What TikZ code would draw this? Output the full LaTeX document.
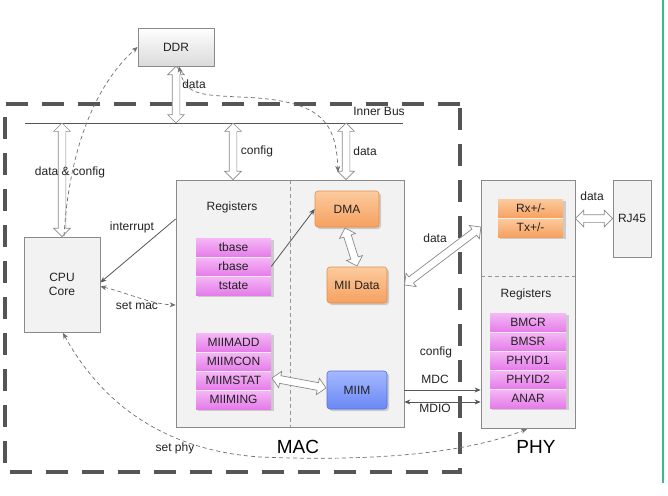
\documentclass[tikz,border=0pt]{standalone}
\usepackage{fontspec}
\setmainfont{Liberation Sans}
\usetikzlibrary{arrows.meta,shapes.arrows,calc}

\definecolor{boxborder}{HTML}{8A8A8A}
\definecolor{boxfill}{HTML}{F2F2F2}
\definecolor{linecol}{HTML}{555555}
\definecolor{pinktop}{HTML}{F5B8F5}
\definecolor{pinkbot}{HTML}{E57CEA}
\definecolor{orgtop}{HTML}{FCCB9E}
\definecolor{orgbot}{HTML}{F6A160}
\definecolor{orgborder}{HTML}{E58D4A}
\definecolor{bluetop}{HTML}{A5B8FF}
\definecolor{bluebot}{HTML}{6A88F5}
\definecolor{blueborder}{HTML}{5672DD}
\definecolor{bigdash}{HTML}{555555}
\definecolor{edgegreen}{HTML}{3DBB85}
\definecolor{txt}{HTML}{222222}

\tikzset{
  every node/.style={font=\fontsize{12}{14}\selectfont, text=txt},
  graybox/.style={draw=boxborder, fill=boxfill, line width=0.8pt, inner sep=0pt},
  ddrbox/.style={draw=boxborder, top color=white, bottom color=boxfill!90!black, line width=0.8pt, inner sep=0pt},
  regrow/.style={top color=pinktop, bottom color=pinkbot, draw=none, minimum width=75pt, minimum height=19pt, inner sep=0pt},
  orgrow/.style={top color=orgtop, bottom color=orgbot, draw=none, minimum width=65pt, minimum height=19pt, inner sep=0pt},
  orangebox/.style={rounded corners=3pt, top color=orgtop, bottom color=orgbot, draw=orgborder, line width=0.6pt, inner sep=0pt},
  bluebox/.style={rounded corners=3pt, top color=bluetop, bottom color=bluebot, draw=blueborder, line width=0.6pt, inner sep=0pt},
  fatarrow/.style={double arrow, draw=boxborder, fill=white, line width=0.7pt, inner sep=0pt, inner ysep=3.5pt, double arrow head extend=4.5pt, double arrow tip angle=90},
  thinarrow/.style={draw=linecol, line width=0.8pt},
  dashconn/.style={draw=linecol!85, line width=0.7pt, dash pattern=on 4pt off 3pt},
  tip/.style={-{Stealth[length=6pt,width=5pt]}},
  tips/.style={{Stealth[length=6pt,width=5pt]}-{Stealth[length=6pt,width=5pt]}},
  lbl/.style={inner sep=0pt},
  biglbl/.style={inner sep=0pt, font=\fontsize{19}{22}\selectfont, text=black},
  shade/.style={fill=black, opacity=0.16},
  rowsep/.style={draw=white, opacity=0.7, line width=1.2pt},
}

\newcommand{\hollowarrow}[2]{%
  \path let \p1=(#1), \p2=(#2), \n1={atan2(\y2-\y1,\x2-\x1)}, \n2={veclen(\x2-\x1,\y2-\y1)} in
    node[fatarrow, rotate=\n1, minimum height=\n2] at ($(\p1)!0.5!(\p2)$) {};}

\begin{document}
\begin{tikzpicture}[x=1pt, y=-1pt]
\useasboundingbox (0,0) rectangle (668,495);

% right edge line
\draw[edgegreen, line width=1.2pt] (663,0) -- (663,483);

% big dashed MAC boundary
\draw[bigdash, line width=4pt, dash pattern=on 22pt off 14pt, dash phase=0pt] (460,104) -- (5,104) -- (5,472) -- (460,472) -- cycle;

% main boxes
\node[ddrbox, minimum width=76pt, minimum height=38pt] (ddr) at (176,47) {DDR};
\node[graybox, minimum width=76pt, minimum height=95pt, align=center] (cpu) at (62,284.5) {CPU\\Core};
\node[graybox, minimum width=228pt, minimum height=247pt] (mac) at (290,303.5) {};
\node[graybox, minimum width=94pt, minimum height=248pt] (phy) at (528,304) {};
\node[graybox, minimum width=38pt, minimum height=77pt] (rj45) at (632,218.5) {RJ45};

% dividers
\draw[boxborder!90, line width=0.7pt, dash pattern=on 4pt off 3pt] (mac.north) -- (mac.south);
\coordinate (phyDivL) at (481,276);
\coordinate (phyDivR) at (575,276);
\draw[boxborder!90, line width=0.7pt, dash pattern=on 4pt off 3pt] (phyDivL) -- (phyDivR);

% inner bus
\coordinate (busL) at (25,123);
\coordinate (busR) at (403,123);
\draw[linecol, line width=0.9pt] (busL) -- (busR);
\node[lbl] (busLbl) at (379,111) {Inner Bus};

% MAC internal blocks
\node[lbl] (macRegLbl) at (232,207) {Registers};
\fill[shade, rounded corners=3pt] (317,193) rectangle (381,229);
\node[orangebox, minimum width=64pt, minimum height=36pt] (dma) at (347,209) {DMA};
\fill[shade, rounded corners=3pt] (329,269) rectangle (389,305);
\node[orangebox, minimum width=60pt, minimum height=36pt] (miidata) at (357,285) {MII Data};
\fill[shade, rounded corners=3pt] (329,373) rectangle (389,411);
\node[bluebox, minimum width=60pt, minimum height=38pt] (miim) at (357,390) {MIIM};

% register stack 1
\fill[shade] (198,240) rectangle (274,297);
\node[regrow] (tbase) at (233.5,247.5) {tbase};
\node[regrow] (rbase) at (233.5,266.5) {rbase};
\node[regrow] (tstate) at (233.5,285.5) {tstate};
\draw[rowsep] (tbase.south west) -- (tbase.south east);
\draw[rowsep] (rbase.south west) -- (rbase.south east);

% register stack 2
\fill[shade] (198,335) rectangle (274,411);
\node[regrow] (miimadd) at (233.5,342.5) {MIIMADD};
\node[regrow] (miimcon) at (233.5,361.5) {MIIMCON};
\node[regrow] (miimstat) at (233.5,380.5) {MIIMSTAT};
\node[regrow] (miiming) at (233.5,399.5) {MIIMING};
\draw[rowsep] (miimadd.south west) -- (miimadd.south east);
\draw[rowsep] (miimcon.south west) -- (miimcon.south east);
\draw[rowsep] (miimstat.south west) -- (miimstat.south east);

% PHY internal
\fill[shade] (500,201) rectangle (566,239);
\node[orgrow] (rx) at (530.5,208.5) {Rx+/-};
\node[orgrow] (tx) at (530.5,227.5) {Tx+/-};
\draw[rowsep] (rx.south west) -- (rx.south east);
\node[lbl] (phyRegLbl) at (526,294) {Registers};
\fill[shade] (492,315) rectangle (569,410);
\node[regrow, minimum width=76pt] (bmcr) at (528,322.5) {BMCR};
\node[regrow, minimum width=76pt] (bmsr) at (528,341.5) {BMSR};
\node[regrow, minimum width=76pt] (phyid1) at (528,360.5) {PHYID1};
\node[regrow, minimum width=76pt] (phyid2) at (528,379.5) {PHYID2};
\node[regrow, minimum width=76pt] (anar) at (528,398.5) {ANAR};
\draw[rowsep] (bmcr.south west) -- (bmcr.south east);
\draw[rowsep] (bmsr.south west) -- (bmsr.south east);
\draw[rowsep] (phyid1.south west) -- (phyid1.south east);
\draw[rowsep] (phyid2.south west) -- (phyid2.south east);

% hollow arrows
\coordinate (busDDR) at (ddr.south |- busL);
\hollowarrow{ddr.south}{busDDR}
\coordinate (busCPU) at (cpu.north |- busL);
\hollowarrow{busCPU}{cpu.north}
\coordinate (busCfg) at (233,123);
\coordinate (macCfg) at (busCfg |- mac.north);
\hollowarrow{busCfg}{macCfg}
\coordinate (busData) at (346,123);
\coordinate (macData) at (busData |- mac.north);
\hollowarrow{busData}{macData}
\coordinate (dmaOut) at (345,228);
\coordinate (miiIn) at (357,266);
\hollowarrow{dmaOut}{miiIn}
\coordinate (statOut) at (272,378);
\coordinate (miimIn) at (326,388);
\hollowarrow{statOut}{miimIn}
\coordinate (macOut) at (mac.east |- miidata);
\coordinate (phyIn) at (481,227);
\hollowarrow{macOut}{phyIn}
\coordinate (phyOut) at (phy.east |- rj45);
\hollowarrow{phyOut}{rj45.west}

% labels of hollow arrows
\node[lbl] at (194,84) {data};
\node[lbl] at (70,172) {data \& config};
\node[lbl] at (257,151) {config};
\node[lbl] at (365,151) {data};
\node[lbl] at (435,238) {data};
\node[lbl] at (592,196) {data};

% thin connectors
\draw[thinarrow, tip] ([yshift=84.5pt]mac.west) -- ([yshift=2pt]cpu.east);
\node[lbl] at (132,227) {interrupt};
\draw[dashconn, tips] ([yshift=-2pt]cpu.east) .. controls (125,292) and (150,304) .. ([yshift=-1.5pt]mac.west);
\node[lbl] at (137,306) {set mac};
\draw[thinarrow, tip] (rbase.east) -- (dma.west);

\draw[thinarrow, tip] (mac.east |- miim) -- (phy.west |- miim);
\draw[thinarrow, tips] ($(mac.east |- miim)+(0,12)$) -- ($(phy.west |- miim)+(0,12)$);
\node[lbl] at (436,352) {config};
\node[lbl] at (435,379) {MDC};
\node[lbl] at (435,408) {MDIO};

% dashed curves
\coordinate (dmaIn) at (338,172);
\draw[dashconn, tips] ([xshift=3pt]ddr.south) .. controls (185,95) and (200,95) .. (240,97) .. controls (320,100) and (336,120) .. (dmaIn);
\coordinate (cpuTop) at (64,236);
\draw[dashconn, tip] (cpuTop) .. controls (69,150) and (95,85) .. (ddr.west);
\coordinate (cpuBot) at (63,333);
\coordinate (phyBot) at (527,429);
\draw[dashconn, tips] (cpuBot) .. controls (100,400) and (160,450) .. (260,457) .. controls (380,462) and (470,452) .. (phyBot);
\node[lbl] at (175,448) {set phy};

% big labels
\node[biglbl] at (298,447) {MAC};
\node[biglbl] at (536,447) {PHY};
\end{tikzpicture}
\end{document}
